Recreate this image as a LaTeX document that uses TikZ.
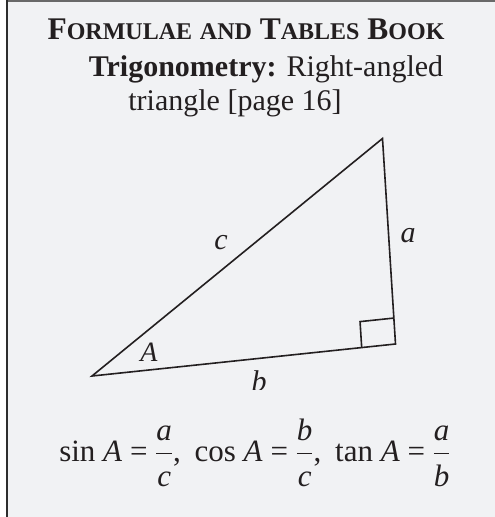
\RequirePackage{fix-cm}
\documentclass[tikz,border=0pt]{standalone}
\usepackage{xcolor}
\usepackage{amsmath}
\usepackage{fontspec}
\setmainfont{Liberation Serif}
\usepackage{tikz}
\usetikzlibrary{positioning,calc}
\definecolor{paper}{RGB}{241,242,244}
\definecolor{ink}{RGB}{35,31,32}
\definecolor{leftrule}{RGB}{45,45,45}
\definecolor{toprule}{RGB}{105,105,105}
\newcommand{\fakesc}[2]{#1{\fontsize{24}{26}\selectfont #2}}
\newcommand{\ratio}[2]{$\dfrac{\textit{#1}}{\raisebox{-4.5pt}{\textit{#2}}}$}
\tikzset{
  titleline/.style={anchor=base, text=ink, inner sep=0pt, font=\fontsize{30}{34}\selectfont},
  sidelabel/.style={text=ink, inner sep=0pt, font=\fontsize{30}{34}\selectfont\itshape},
  edge/.style={draw=ink, line width=1.6pt, line join=miter},
  formula/.style={anchor=base, text=ink, inner sep=0pt, font=\fontsize{31}{33}\selectfont}
}

\begin{document}
\begin{tikzpicture}[x=1pt, y=-1pt]
\useasboundingbox (0,0) rectangle (495,517);
\fill[paper] (6,0) rectangle (495,517);
\draw[toprule, line width=1.6pt] (6,0.8) -- (495,0.8);
\draw[leftrule, line width=1.6pt] (6.8,0) -- (6.8,517);

\node[titleline, font=\fontsize{31.5}{34}\selectfont] (book) at (246,39.5) {\bfseries\fakesc{F}{ORMULAE} \fakesc{}{AND} \fakesc{T}{ABLES} \fakesc{B}{OOK}};
\node[titleline] (topic) at (266,76.5) {\textbf{Trigonometry:} Right-angled};
\node[titleline] (topicend) at (235,110) {triangle [page 16]};

\coordinate (A) at (92,376);
\coordinate (B) at (382.5,138.5);
\coordinate (C) at (395.5,344);
\draw[edge] (A) -- (B) -- (C) -- cycle;
% right angle mark
\coordinate (ra) at ($(C)!34pt!(A)$);
\coordinate (rb) at ($(C)!26pt!(B)$);
\draw[edge] (ra) -- ($(ra)+(rb)-(C)$) -- (rb);

\node[sidelabel] (lc) at (221,243) {c};
\node[sidelabel] (la) at (408,236) {a};
\node[sidelabel, font=\fontsize{28}{30}\selectfont\itshape] (lA) at (149,352) {A};
\begin{scope}
\clip (0,0) rectangle (495,389.5);
\node[sidelabel] (lb) at (259,381) {b};
\end{scope}

\node[formula] (ratios) at (255,461) {sin \textit{A} = \ratio{a}{c},\hspace{6pt} cos \textit{A} = \ratio{b}{c},\hspace{6pt} tan \textit{A} = \ratio{a}{b}};
\end{tikzpicture}
\end{document}
